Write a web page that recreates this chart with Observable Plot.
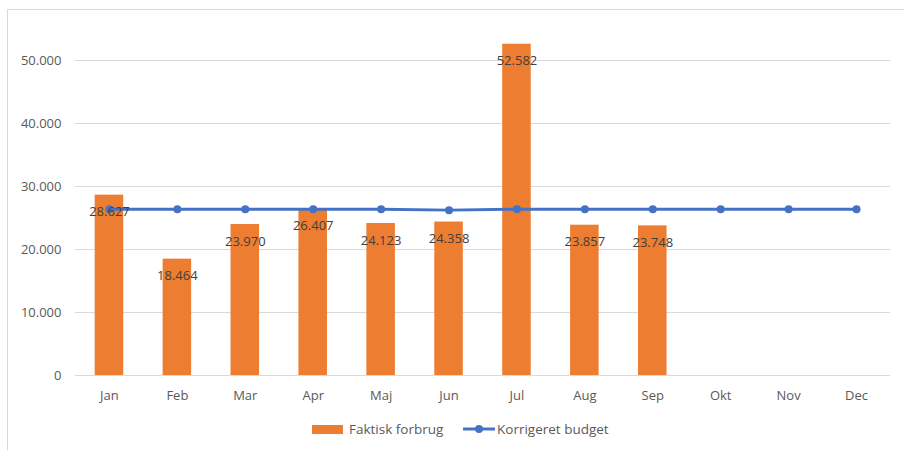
<!DOCTYPE html>
<html><head><meta charset="utf-8">
<script src="https://cdn.jsdelivr.net/npm/d3@7"></script>
<script src="https://cdn.jsdelivr.net/npm/@observablehq/plot@0.6"></script>
<style>
body{margin:0;background:#fff;font-family:"Open Sans",sans-serif;}
#wrap{position:relative;width:904px;height:450px;overflow:hidden;}
#frame{position:absolute;left:7px;top:9px;right:-2px;bottom:-2px;border-top:1px solid #d9d9d9;border-left:1px solid #d9d9d9;}
#chart{position:absolute;left:0;top:0;}
#legend{position:absolute;top:419px;left:0;width:904px;height:20px;font-size:13.5px;color:#595959;}
.sw{position:absolute;}
</style></head>
<body><div id="wrap"><div id="frame"></div><div id="chart"></div>
<div id="legend">
 <div class="sw" style="left:312px;top:6px;width:31px;height:9px;background:#ED7D31"></div>
 <div class="sw" style="left:349px;top:0;line-height:20px">Faktisk forbrug</div>
 <svg class="sw" style="left:462px;top:0" width="34" height="20"><line x1="1" x2="33" y1="10" y2="10" stroke="#4472C4" stroke-width="3"/><circle cx="17" cy="10" r="4" fill="#4472C4"/></svg>
 <div class="sw" style="left:497px;top:0;line-height:20px">Korrigeret budget</div>
</div></div>
<script>
const months = ["Jan","Feb","Mar","Apr","Maj","Jun","Jul","Aug","Sep","Okt","Nov","Dec"];
const actual = [28627,18464,23970,26407,24123,24358,52582,23857,23748,null,null,null];
const budget = [26400,26400,26400,26400,26400,26250,26400,26400,26400,26400,26400,26400];
const yTicks = [0,10000,20000,30000,40000,50000];

const loc = d3.formatLocale({decimal:",",thousands:".",grouping:[3],currency:["",""]});
const fmt = loc.format(",");
const bars = months.map((m,i)=>({m, v: actual[i]})).filter(d=>d.v!=null);
const line = months.map((m,i)=>({m, v: budget[i]}));

const chart = Plot.plot({
  width: 904, height: 410,
  marginLeft: 75, marginRight: 14, marginTop: 28.5, marginBottom: 35,
  style:{fontFamily:"Open Sans, sans-serif", fontSize:"13px", color:"#595959", background:"transparent"},
  x:{domain: months, paddingInner:0.58, paddingOuter:0.29, round:false, label:null},
  y:{domain:[0,55000], label:null},
  marks:[
    Plot.gridY(yTicks,{stroke:"#d9d9d9", strokeOpacity:1}),
    Plot.axisY({ticks:yTicks, tickSize:0, tickPadding:14, tickFormat:fmt, label:null, fill:"#595959"}),
    Plot.axisX({tickSize:0, tickPadding:15, label:null, fill:"#595959"}),
    Plot.barY(bars,{x:"m", y:"v", fill:"#ED7D31"}),
    Plot.line(line,{x:"m", y:"v", stroke:"#4472C4", strokeWidth:3}),
    Plot.dot(line,{x:"m", y:"v", fill:"#4472C4", r:4}),
    Plot.text(bars,{x:"m", y:"v", text:d=>fmt(d.v), dy:17, fill:"#404040", fontSize:13})
  ]
});
document.getElementById("chart").appendChild(chart);
</script></body></html>
